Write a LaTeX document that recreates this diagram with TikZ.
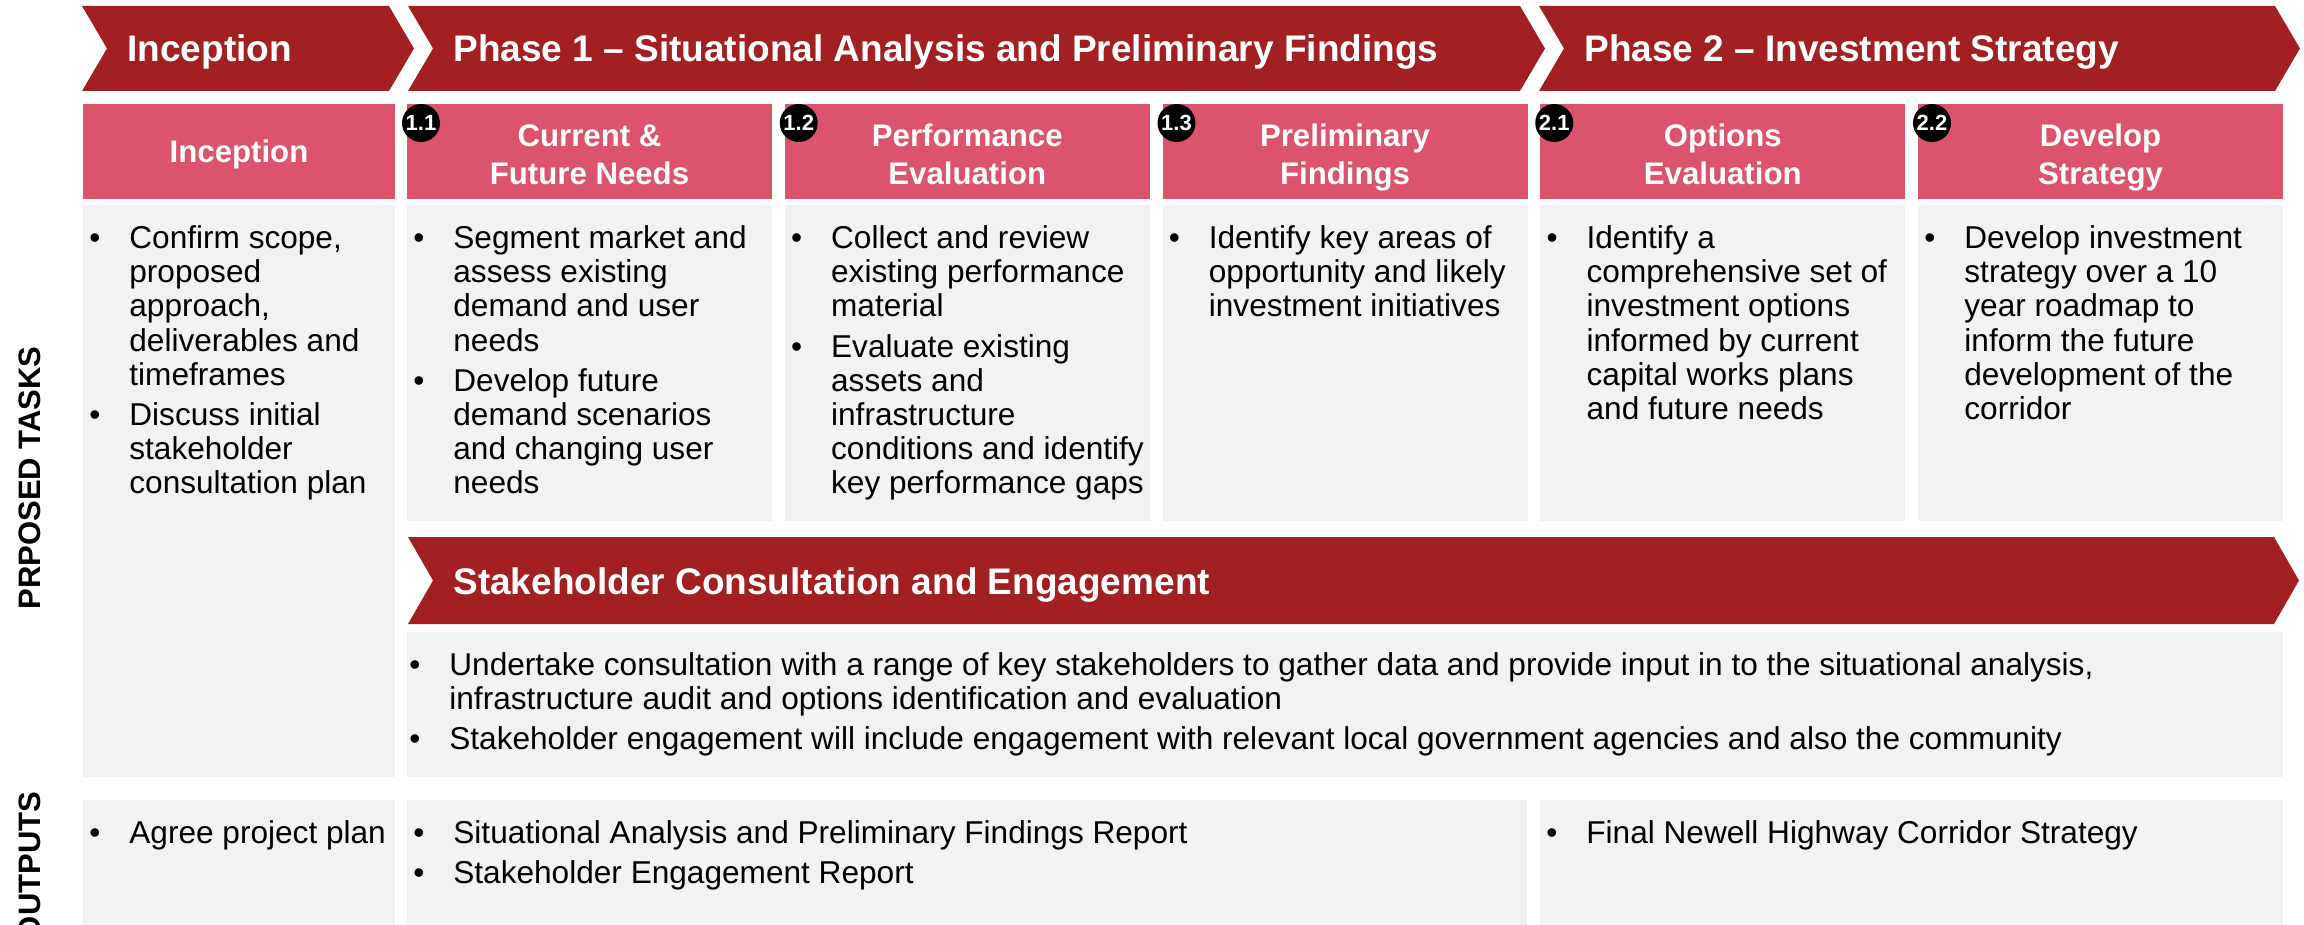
\documentclass[tikz,border=0pt]{standalone}
\usepackage{fontspec}
\setmainfont{Liberation Sans}

\definecolor{phasered}{HTML}{A21F22}
\definecolor{headpink}{HTML}{DB546B}
\definecolor{cellgrey}{HTML}{F2F2F2}

% bullet lists: one row per printed line
\newcommand{\bl}{\textbullet&}
\newcommand{\blist}[1]{\begin{tabular}[t]{@{}p{20pt}@{}l@{}}#1\end{tabular}}
\newcommand{\hlines}[1]{\begin{tabular}[t]{@{}c@{}}#1\end{tabular}}
% notched banner: left, right, top, bottom (px)
\newcommand{\chevron}[4]{%
  \fill[phasered] (#1,#3) -- (#2,#3) -- (#2+25,{(#3+#4)/2}) -- (#2,#4)
    -- (#1,#4) -- (#1+25,{(#3+#4)/2}) -- cycle;}

\begin{document}
\begin{tikzpicture}[x=0.5pt,y=-0.5pt,
  phasetitle/.style={anchor=base west,inner sep=0pt,text=white,font=\bfseries\fontsize{18.5}{22}\selectfont},
  taskhead/.style={anchor=base,inner sep=0pt,text=white,font=\bfseries\fontsize{15.6}{19}\selectfont},
  badge/.style={circle,fill=black,inner sep=0pt,minimum size=19pt,text=white,font=\bfseries\fontsize{11}{12}\selectfont},
  tasktext/.style={anchor=base west,inner sep=0pt,font=\fontsize{15.8}{17.12}\selectfont},
  rowlabel/.style={rotate=90,inner sep=0pt,font=\bfseries\fontsize{15.5}{18}\selectfont}]

\useasboundingbox (0,0) rectangle (2304,925);
\clip (0,0) rectangle (2304,925);

% phase banners
\chevron{82}{389}{6}{91}
\chevron{408}{1520}{6}{91}
\chevron{1539}{2275}{6}{91}
\node[phasetitle] (inc) at (127,62) {Inception};
\node[phasetitle] (ph1) at (453,62) {Phase 1 – Situational Analysis and Preliminary Findings};
\node[phasetitle] (ph2) at (1584,62) {Phase 2 – Investment Strategy};

% inception column
\fill[headpink] (83,104) rectangle (395,199);
\fill[cellgrey] (83,205) rectangle (395,777);
\node[taskhead] (hinc) at (239,163) {Inception};

% task columns
\foreach \i/\num/\head in {0/1.1/{Current \&\\Future Needs},1/1.2/{Performance\\Evaluation},
    2/1.3/{Preliminary\\Findings},3/2.1/{Options\\Evaluation},4/2.2/{Develop\\Strategy}} {
  \pgfmathsetmacro{\xl}{407+377.75*\i}
  \fill[headpink] (\xl,104) rectangle ++(365,95);
  \fill[cellgrey] (\xl,205) rectangle ++(365,316);
  \node[taskhead] (head\i) at (\xl+182.5,147) {\hlines{\head}};
  \node[badge] (badge\i) at (\xl+14,123) {\num};
}

\node[tasktext] (tinc) at (89,248.5) {\blist{\bl Confirm scope,\\ & proposed\\ & approach,\\ & deliverables and\\ & timeframes\\[2.9pt]
  \bl Discuss initial\\ & stakeholder\\ & consultation plan}};
\node[tasktext] (t11) at (413,248.5) {\blist{\bl Segment market and\\ & assess existing\\ & demand and user\\ & needs\\[2.9pt]
  \bl Develop future\\ & demand scenarios\\ & and changing user\\ & needs}};
\node[tasktext] (t12) at (790.75,248.5) {\blist{\bl Collect and review\\ & existing performance\\ & material\\[2.9pt]
  \bl Evaluate existing\\ & assets and\\ & infrastructure\\ & conditions and identify\\ & key performance gaps}};
\node[tasktext] (t13) at (1168.5,248.5) {\blist{\bl Identify key areas of\\ & opportunity and likely\\ & investment initiatives}};
\node[tasktext] (t21) at (1546.25,248.5) {\blist{\bl Identify a\\ & comprehensive set of\\ & investment options\\ & informed by current\\ & capital works plans\\ & and future needs}};
\node[tasktext] (t22) at (1924,248.5) {\blist{\bl Develop investment\\ & strategy over a 10\\ & year roadmap to\\ & inform the future\\ & development of the\\ & corridor}};

% stakeholder stream
\chevron{408}{2274}{537}{624}
\node[phasetitle] (stk) at (453,594) {Stakeholder Consultation and Engagement};
\fill[cellgrey] (407,632) rectangle (2283,777);
\node[tasktext] (tstk) at (409,675) {\blist{\bl Undertake consultation with a range of key stakeholders to gather data and provide input in to the situational analysis,\\
  & infrastructure audit and options identification and evaluation\\[2.9pt]
  \bl Stakeholder engagement will include engagement with relevant local government agencies and also the community}};

% outputs
\fill[cellgrey] (83,800) rectangle (395,935);
\fill[cellgrey] (407,800) rectangle (1527,935);
\fill[cellgrey] (1540,800) rectangle (2283,935);
\node[tasktext] (oinc) at (89,843) {\blist{\bl Agree project plan}};
\node[tasktext] (oph1) at (413,843) {\blist{\bl Situational Analysis and Preliminary Findings Report\\[2.9pt]
  \bl Stakeholder Engagement Report}};
\node[tasktext] (oph2) at (1546,843) {\blist{\bl Final Newell Highway Corridor Strategy}};

% row labels
\node[rowlabel] (lbltask) at (30,478) {PRPOSED TASKS};
\node[rowlabel] (lblout) at (30,866) {OUTPUTS};
\end{tikzpicture}
\end{document}
